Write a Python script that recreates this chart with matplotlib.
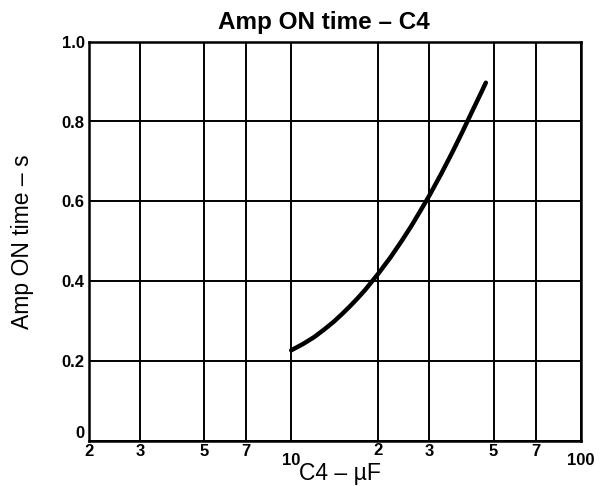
import matplotlib
matplotlib.use("Agg")
import matplotlib.pyplot as plt

plt.rcParams['font.family'] = ['Liberation Sans', 'DejaVu Sans']

# curve (C4 in uF, time in s)
c4_uf = [10, 11, 12, 13, 14, 15, 16, 17, 18, 19, 20, 22, 24, 26, 28, 30,
         33, 36, 39, 42, 45, 47]
on_time_s = [0.228, 0.244, 0.261, 0.280, 0.299, 0.319, 0.339, 0.359, 0.379,
             0.400, 0.420, 0.460, 0.500, 0.539, 0.578, 0.615,
             0.670, 0.723, 0.774, 0.823, 0.868, 0.897]

x_ticks = [2, 3, 5, 7, 10, 20, 30, 50, 70, 100]
x_tick_labels = ["2", "3", "5", "7", "10", "2", "3", "5", "7", "100"]
y_ticks = [0, 0.2, 0.4, 0.6, 0.8, 1.0]
y_tick_labels = ["0", "0.2", "0.4", "0.6", "0.8", "1.0"]

fig = plt.figure(figsize=(6, 4.86), dpi=100)
ax = fig.add_axes([0.148, 0.0916, 0.820, 0.823])

ax.plot(c4_uf, on_time_s, color="black", linewidth=3.2, solid_capstyle="round")

ax.set_xscale("log")
ax.set_xlim(2, 100)
ax.set_ylim(0, 1.0)

ax.set_xticks(x_ticks)
ax.set_xticklabels([])
ax.xaxis.set_minor_locator(matplotlib.ticker.NullLocator())
ax.set_yticks(y_ticks)
ax.set_yticklabels(y_tick_labels, fontweight="bold", fontsize=12)
ax.tick_params(axis="both", length=0, pad=3)
# the "0" sits a little above the baseline
ax.get_yticklabels()[0].set_verticalalignment("bottom")

# x labels drawn by hand, the "10" and "100" sit a bit lower in the original
drop = [0, 0, 0, 0, 6, -1, 0, 0, 0, 6]
for xv, lab, d in zip(x_ticks, x_tick_labels, drop):
    ax.annotate(lab, xy=(xv, 0), xycoords=("data", "axes fraction"),
                xytext=(0, -2 - d), textcoords="offset points",
                ha="center", va="top", fontsize=12, fontweight="bold")

ax.grid(True, which="major", color="black", linewidth=1.4)
for s in ax.spines.values():
    s.set_linewidth(1.8)

ax.set_xlabel("C4 – µF", fontsize=16.5, va="center")
ax.xaxis.set_label_coords(0.51, -0.08)
ax.set_ylabel("Amp ON time – s", fontsize=16.5, va="center")
ax.yaxis.set_label_coords(-0.135, 0.5)
fig.text(0.54, 0.953, "Amp ON time – C4", ha="center", va="center",
         fontsize=17.5, fontweight="bold")

fig.savefig("out.png", dpi=100)
